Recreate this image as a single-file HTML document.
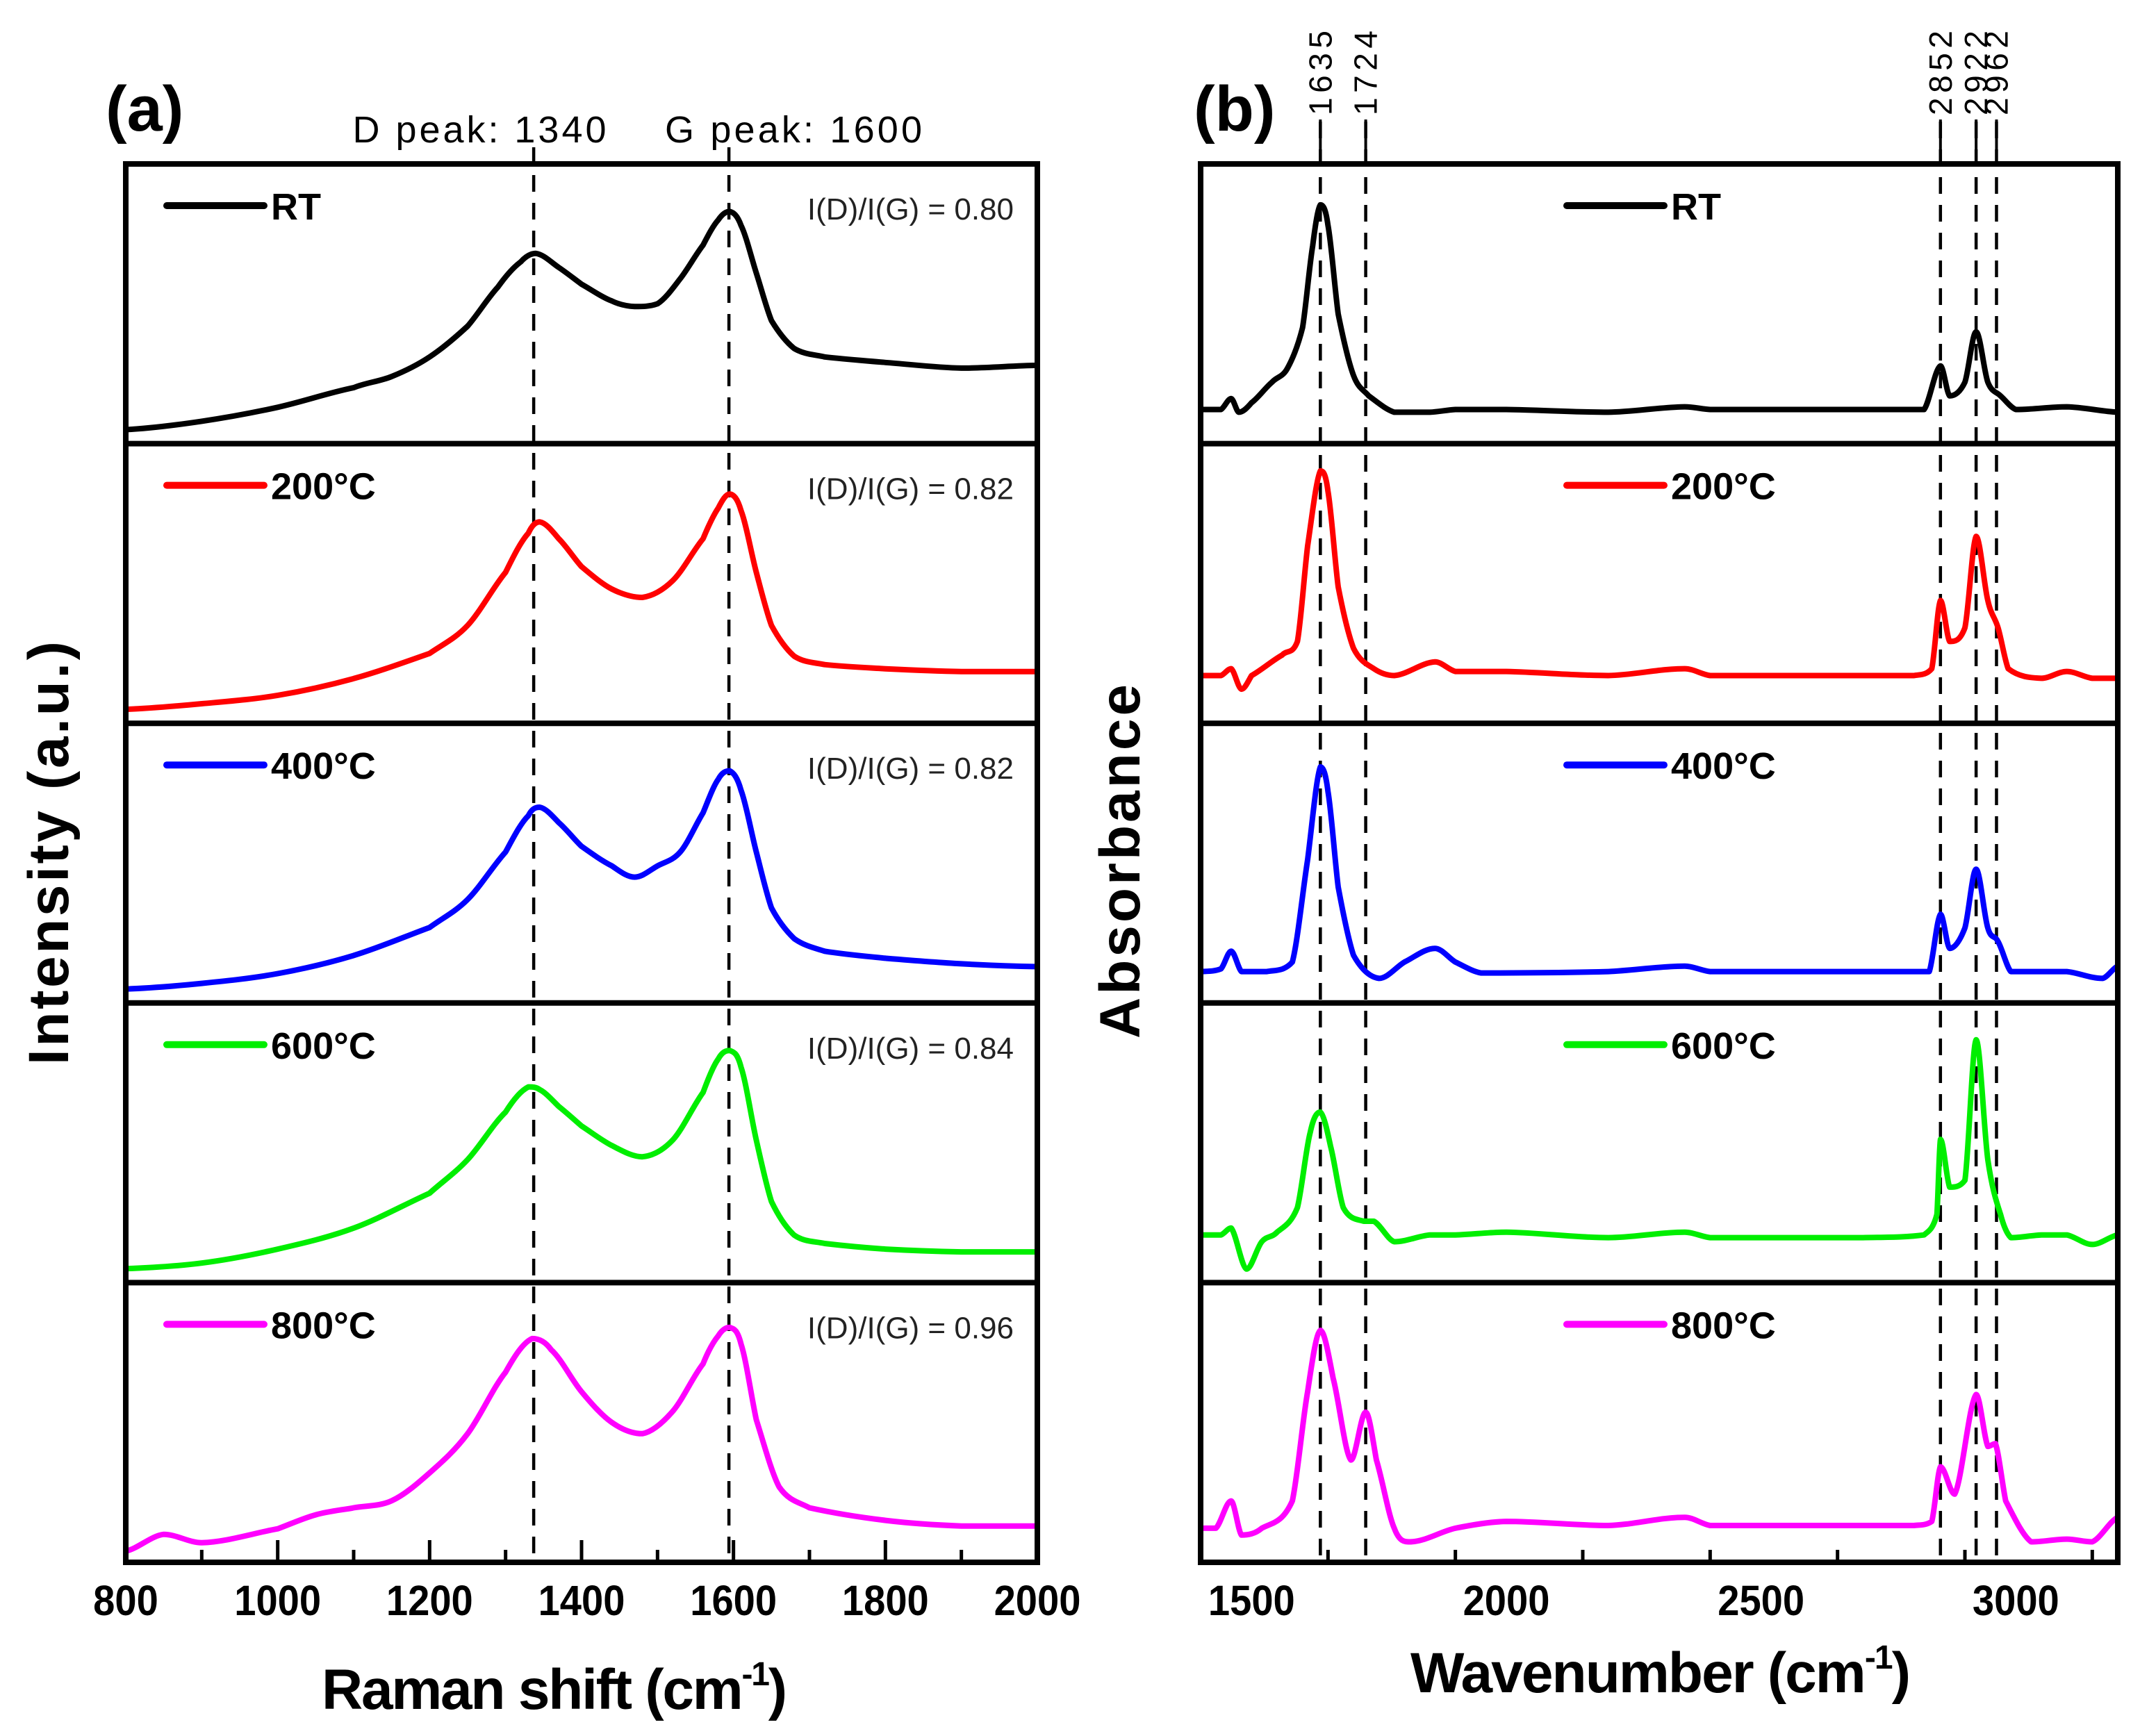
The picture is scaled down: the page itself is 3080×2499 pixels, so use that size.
<!DOCTYPE html>
<html><head><meta charset="utf-8">
<style>html,body{margin:0;padding:0;background:#fff}svg{display:block}text{font-family:"Liberation Sans",Arial,sans-serif}</style>
</head><body>
<svg id="fig" width="3080" height="2499" viewBox="0 0 3080 2499" xmlns="http://www.w3.org/2000/svg"></svg>
<script>
// ---- Panel (a) Raman data (normalized intensity per sub-panel) ----
const ramanX_RT = [800,900,1000,1100,1150,1200,1250,1290,1320,1340,1370,1400,1440,1470,1500,1530,1560,1580,1595,1610,1630,1650,1680,1720,1800,1900,2000];
const ramanY_RT = [0.05,0.08,0.13,0.20,0.24,0.31,0.42,0.56,0.65,0.68,0.63,0.57,0.51,0.49,0.50,0.59,0.71,0.80,0.83,0.78,0.61,0.44,0.34,0.31,0.29,0.27,0.28];
const ramanX_A = [800,900,1000,1100,1200,1250,1300,1330,1345,1370,1400,1440,1480,1520,1560,1580,1595,1610,1630,1650,1680,1720,1800,1900,2000];
const ramanY_200 = [0.05,0.07,0.10,0.16,0.25,0.35,0.54,0.68,0.72,0.66,0.56,0.48,0.45,0.51,0.66,0.77,0.82,0.76,0.54,0.35,0.24,0.21,0.195,0.185,0.185];
const ramanY_600 = [0.05,0.07,0.12,0.195,0.32,0.44,0.61,0.70,0.69,0.63,0.56,0.49,0.45,0.51,0.68,0.80,0.83,0.77,0.51,0.29,0.17,0.14,0.12,0.11,0.11];
const ramanX_400 = [800,900,1000,1100,1200,1250,1300,1330,1345,1370,1400,1440,1470,1500,1530,1560,1580,1595,1610,1630,1650,1680,1720,1800,1900,2000];
const ramanY_400 = [0.05,0.07,0.105,0.17,0.27,0.37,0.54,0.67,0.70,0.645,0.56,0.49,0.45,0.49,0.54,0.68,0.80,0.83,0.76,0.54,0.34,0.23,0.185,0.16,0.14,0.13];
const ramanX_800 = [800,850,900,1000,1050,1100,1150,1200,1250,1300,1335,1360,1400,1440,1480,1520,1560,1580,1595,1610,1630,1660,1700,1800,1900,2000];
const ramanY_800 = [0.04,0.10,0.07,0.12,0.17,0.195,0.22,0.32,0.46,0.68,0.80,0.76,0.61,0.50,0.46,0.54,0.71,0.81,0.84,0.78,0.51,0.27,0.195,0.15,0.13,0.13];
const ramanLabels = ["RT","200°C","400°C","600°C","800°C"];
const ratioLabels = ["0.80","0.82","0.82","0.84","0.96"];
const ramanTicks = [800,1000,1200,1400,1600,1800,2000];
const ramanPeaks = [1337,1594];

// ---- Panel (b) FTIR data (absorbance a.u., 0..205 per sub-panel) ----
const irX_RT = [1400,1440,1460,1475,1500,1540,1570,1600,1620,1635,1650,1670,1700,1730,1780,1850,1900,2000,2200,2350,2400,2700,2820,2852,2870,2900,2922,2945,2970,3000,3100,3200];
const irY_RT = [25,25,33,23,30,45,55,85,145,175,160,95,50,35,23,23,25,25,23,27,25,25,25,57,35,45,82,45,35,25,27,23];
const irX_200 = [1400,1440,1460,1480,1500,1560,1590,1610,1635,1650,1670,1700,1740,1780,1860,1900,2000,2200,2350,2400,2800,2835,2852,2870,2900,2922,2945,2965,2985,3050,3100,3150,3200];
const irY_200 = [35,35,40,25,35,50,60,130,185,170,100,55,40,35,45,38,38,35,40,35,35,40,90,60,70,137,90,70,40,33,38,33,33];
const irX_400 = [1400,1440,1460,1480,1530,1580,1610,1635,1650,1670,1700,1750,1800,1860,1900,1950,2200,2350,2400,2830,2852,2870,2900,2922,2945,2965,2990,3100,3170,3200];
const irY_400 = [23,25,38,23,23,30,105,173,155,85,35,18,30,40,30,22,23,27,23,23,65,40,55,98,55,45,23,23,18,27];
const irX_600 = [1400,1440,1460,1490,1520,1550,1590,1615,1635,1655,1680,1720,1740,1780,1850,1900,2000,2200,2350,2400,2700,2820,2845,2852,2870,2900,2922,2945,2970,2990,3050,3100,3150,3200];
const irY_600 = [35,35,40,10,30,37,55,110,125,100,55,45,45,30,35,35,37,33,37,33,33,35,50,105,70,75,178,90,50,33,35,35,28,35];
const irX_800 = [1400,1430,1460,1480,1520,1580,1610,1635,1660,1695,1724,1745,1780,1810,1900,2000,2200,2350,2400,2800,2835,2852,2880,2922,2945,2960,2980,3030,3100,3150,3200];
const irY_800 = [25,25,45,20,25,45,125,170,135,75,110,75,25,15,25,30,27,33,27,27,30,70,50,123,85,87,45,15,17,15,33];
const irTicks = [1500,2000,2500,3000];
const irPeaks = [1635,1724,2852,2922,2962];

const colors = ["#000000","#ff0000","#0000ff","#00ee00","#ff00ff"];
const NS = "http://www.w3.org/2000/svg";
const svg = document.getElementById('fig');
function mk(tag, attrs, parent){const e=document.createElementNS(NS,tag);for(const k in attrs)e.setAttribute(k,attrs[k]);(parent||svg).appendChild(e);return e;}
function smoothPath(pts){let d="M"+pts[0][0].toFixed(1)+","+pts[0][1].toFixed(1);for(let i=0;i<pts.length-1;i++){const p0=pts[i-1]||pts[i],p1=pts[i],p2=pts[i+1],p3=pts[i+2]||p2;let c1y=p1[1]+(p2[1]-p0[1])/6,c2y=p2[1]-(p3[1]-p1[1])/6;const lo=Math.min(p1[1],p2[1]),hi=Math.max(p1[1],p2[1]);c1y=Math.max(lo,Math.min(hi,c1y));c2y=Math.max(lo,Math.min(hi,c2y));const c1x=p1[0]+(p2[0]-p1[0])/3,c2x=p2[0]-(p2[0]-p1[0])/3;d+=` C${c1x.toFixed(1)},${c1y.toFixed(1)} ${c2x.toFixed(1)},${c2y.toFixed(1)} ${p2[0].toFixed(1)},${p2[1].toFixed(1)}`;}return d;}

const TOP=236, BOT=2249, NSUB=5, SUBH=(BOT-TOP)/NSUB;

function panel(cfg){
  const g=mk('g',{});
  
  
  const sx=v=>cfg.L+(v-cfg.x0)/(cfg.x1-cfg.x0)*(cfg.R-cfg.L);
  cfg.peaks.forEach((p,i)=>{
    const l=mk('line',{x1:sx(p),x2:sx(p),y1:cfg.dashTop,y2:BOT,stroke:'#000','stroke-width':4.5,'stroke-dasharray':'24,16'},g);
    
    
  });
  cfg.series.forEach((s,k)=>{
    const sb=TOP+(k+1)*SUBH;
    const sy=v=>sb-(v-cfg.y0)/(cfg.y1-cfg.y0)*SUBH;
    const pts=s.x.map((xv,i)=>[sx(xv),sy(s.y[i])]);
    const cp=mk('clipPath',{id:cfg.name+'-clip'+k},g);
    mk('rect',{x:cfg.L,y:sb-SUBH,width:cfg.R-cfg.L,height:SUBH},cp);
    const p=mk('path',{d:smoothPath(pts),fill:'none',stroke:colors[k],'stroke-width':8,'stroke-linejoin':'round','clip-path':`url(#${cfg.name}-clip${k})`},g);
    
    
    const ly=sb-SUBH+60;
    const ll=mk('line',{x1:cfg.legX,x2:cfg.legX+140,y1:ly,y2:ly,stroke:colors[k],'stroke-width':10,'stroke-linecap':'round'},g);
    
    
    const lt=mk('text',{x:cfg.legX+150,y:ly+20,'font-size':54,'font-weight':'bold',fill:'#000'},g);
    lt.textContent=ramanLabels[k];
    
    
    if(cfg.ratio){
      const rt=mk('text',{x:cfg.R-34,y:sb-SUBH+80,'font-size':44,fill:'#222','text-anchor':'end'},g);
      rt.textContent='I(D)/I(G) = '+ratioLabels[k];
      
      
    }
  });
  const fr=mk('rect',{x:cfg.L,y:TOP,width:cfg.R-cfg.L,height:BOT-TOP,fill:'none',stroke:'#000','stroke-width':8},g);
  
  
  for(let k=1;k<NSUB;k++){mk('line',{x1:cfg.L,x2:cfg.R,y1:TOP+k*SUBH,y2:TOP+k*SUBH,stroke:'#000','stroke-width':8},g);}
  for(let v=cfg.x0;v<=cfg.x1;v+=cfg.minor){
    const major=cfg.ticks.includes(v);
    mk('line',{x1:sx(v),x2:sx(v),y1:BOT,y2:BOT-(major?32:18),stroke:'#000','stroke-width':5},g);
  }
  cfg.ticks.forEach(v=>{
    const X=sx(v);
    const t=mk('text',{x:X,y:2325,'font-size':61,'font-weight':'bold','text-anchor':'middle',transform:`translate(${X},0) scale(0.92,1) translate(${-X},0)`},g);
    t.textContent=v;
    
    
  });
  return {g,sx};
}

panel({name:'raman-panel',L:181,R:1493,x0:800,x1:2000,y0:0,y1:1,minor:100,ticks:ramanTicks,peaks:ramanPeaks,dashTop:212,legX:240,ratio:true,
  series:[{x:ramanX_RT,y:ramanY_RT},{x:ramanX_A,y:ramanY_200},{x:ramanX_400,y:ramanY_400},{x:ramanX_A,y:ramanY_600},{x:ramanX_800,y:ramanY_800}]});
const pb=panel({name:'ftir-panel',L:1728,R:3048,x0:1400,x1:3200,y0:0,y1:205,minor:250,ticks:irTicks,peaks:irPeaks,dashTop:175,legX:2255,ratio:false,
  series:[{x:irX_RT,y:irY_RT},{x:irX_200,y:irY_200},{x:irX_400,y:irY_400},{x:irX_600,y:irY_600},{x:irX_800,y:irY_800}]});
irPeaks.forEach(p=>{
  const x=pb.sx(p);
  mk('line',{x1:x,x2:x,y1:172,y2:TOP,stroke:'#000','stroke-width':4});
  const t=mk('text',{x:x+16,y:166,'font-size':46,transform:`rotate(-90 ${x+16} 166)`,textLength:122});
  t.textContent=p;
  
  
});
function txt(s,a,name){const t=mk('text',a);t.textContent=s;return t;}
txt('(a)',{x:152,y:188,'font-size':92,'font-weight':'bold'},'panel-a-label');
txt('(b)',{x:1718,y:188,'font-size':92,'font-weight':'bold'},'panel-b-label');
txt('D peak: 1340',{x:690,y:205,'font-size':54,'text-anchor':'middle',textLength:365},'d-peak-label');
txt('G peak: 1600',{x:1142,y:205,'font-size':54,'text-anchor':'middle',textLength:370},'g-peak-label');
const xa=txt('Raman shift (cm',{x:463,y:2460,'font-size':82,'font-weight':'bold',textLength:670},'x-axis-title-a');
const s1=mk('tspan',{dy:-34,'font-size':48},xa);s1.textContent='-1';
const s2=mk('tspan',{dy:34},xa);s2.textContent=')';
const xb=txt('Wavenumber (cm',{x:2030,y:2436,'font-size':82,'font-weight':'bold',textLength:720},'x-axis-title-b');
const s3=mk('tspan',{dy:-34,'font-size':48},xb);s3.textContent='-1';
const s4=mk('tspan',{dy:34},xb);s4.textContent=')';
txt('Intensity (a.u.)',{x:98,y:1228,'font-size':82,'font-weight':'bold','text-anchor':'middle',textLength:610,transform:'rotate(-90 98 1228)'},'y-axis-title-a');
txt('Absorbance',{x:1640,y:1240,'font-size':82,'font-weight':'bold','text-anchor':'middle',textLength:510,transform:'rotate(-90 1640 1240)'},'y-axis-title-b');
</script>
</body></html>
